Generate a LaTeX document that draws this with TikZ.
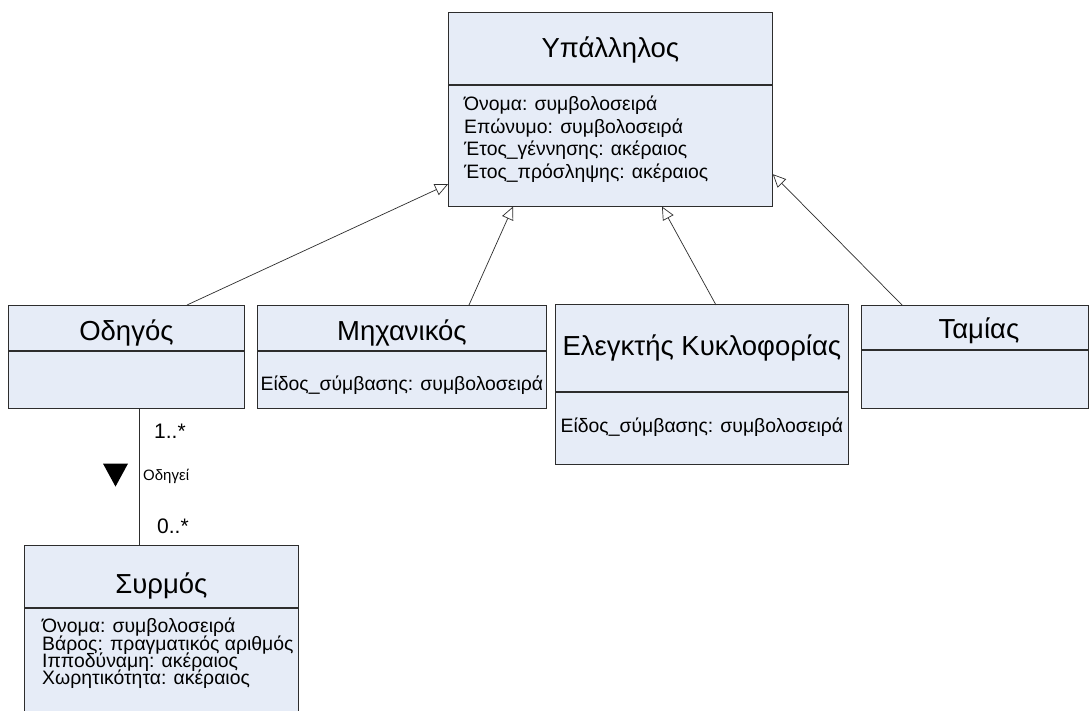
\documentclass[tikz,border=0pt]{standalone}
\usepackage{fontspec}
\setmainfont{Liberation Sans}
\usetikzlibrary{arrows.meta,calc}
\definecolor{clsfill}{RGB}{230,236,247}
\definecolor{edge}{RGB}{45,45,45}
\begin{document}
\begin{tikzpicture}[x=1pt,y=-1pt,
  cls/.style={draw=edge, fill=clsfill, line width=0.8pt, rectangle, inner sep=0pt, anchor=north west},
  ttl/.style={font=\fontsize{27.5}{32}\selectfont, anchor=base, inner sep=0pt},
  attr/.style={font=\fontsize{19.4}{22}\selectfont, anchor=base west, inner sep=0pt},
  mult/.style={font=\fontsize{21}{24}\selectfont, anchor=base west, inner sep=0pt},
  role/.style={font=\fontsize{15}{17}\selectfont, anchor=base west, inner sep=0pt},
  gen/.style={draw=edge, line width=0.7pt, -{Triangle[open, length=13pt, width=12pt]}},
  assoc/.style={draw=edge, line width=0.7pt}]
\clip (0,0) rectangle (1089,711);
\fill[white] (0,0) rectangle (1089,711);

% Employee (superclass)
\node[cls, minimum width=324pt, minimum height=72pt] (ypT) at (448,12) {};
\node[cls, minimum width=324pt, minimum height=121pt] (ypB) at (ypT.south west) {};
\node[ttl] (ypN) at ($(ypT.south)+(0,-27)$) {Υπάλληλος};
\node[attr] (ypA1) at ($(ypB.north west)+(16,26)$) {Όνομα: συμβολοσειρά};
\node[attr] (ypA2) at ($(ypA1.base west)+(0,22.5)$) {Επώνυμο: συμβολοσειρά};
\node[attr] (ypA3) at ($(ypA2.base west)+(0,22.5)$) {Έτος\_γέννησης: ακέραιος};
\node[attr] (ypA4) at ($(ypA3.base west)+(0,22.5)$) {Έτος\_πρόσληψης: ακέραιος};

% Driver
\node[cls, minimum width=236pt, minimum height=45pt] (odT) at (8,305) {};
\node[cls, minimum width=236pt, minimum height=57pt] (odB) at (odT.south west) {};
\node[ttl] (odN) at ($(odT.south)+(0,-10)$) {Οδηγός};

% Engineer
\node[cls, minimum width=289pt, minimum height=45pt] (mhT) at (257,305) {};
\node[cls, minimum width=289pt, minimum height=57pt] (mhB) at (mhT.south west) {};
\node[ttl] (mhN) at ($(mhT.south)+(0,-10)$) {Μηχανικός};
\node[attr, anchor=base] (mhA1) at ($(mhB.north)+(0,40)$) {Είδος\_σύμβασης: συμβολοσειρά};

% Traffic controller
\node[cls, minimum width=293pt, minimum height=87pt] (elT) at (555,304) {};
\node[cls, minimum width=293pt, minimum height=72pt] (elB) at (elT.south west) {};
\node[ttl] (elN) at ($(elT.south)+(0,-36)$) {Ελεγκτής Κυκλοφορίας};
\node[attr, anchor=base] (elA1) at ($(elB.north)+(0,41)$) {Είδος\_σύμβασης: συμβολοσειρά};

% Cashier
\node[cls, minimum width=227pt, minimum height=44pt] (tmT) at (861,305) {};
\node[cls, minimum width=227pt, minimum height=58pt] (tmB) at (tmT.south west) {};
\node[ttl] (tmN) at ($(tmT.south)+(4,-11)$) {Ταμίας};

% Train
\node[cls, minimum width=274pt, minimum height=62pt] (srT) at (24,545) {};
\node[cls, minimum width=274pt, minimum height=120pt] (srB) at (srT.south west) {};
\node[ttl] (srN) at ($(srT.south)+(0,-14)$) {Συρμός};
\node[attr] (srA1) at ($(srB.north west)+(18,25)$) {Όνομα: συμβολοσειρά};
\node[attr] (srA2) at ($(srA1.base west)+(0,17.3)$) {Βάρος: πραγματικός αριθμός};
\node[attr] (srA3) at ($(srA2.base west)+(0,17.3)$) {Ιπποδύναμη: ακέραιος};
\node[attr] (srA4) at ($(srA3.base west)+(0,17.3)$) {Χωρητικότητα: ακέραιος};

% Generalisations
\draw[gen] ($(odT.north west)+(179,0)$) -- ($(ypB.west)+(0,38.5)$);
\draw[gen] ($(mhT.north west)+(212,0)$) -- ($(ypB.south west)+(65,0)$);
\draw[gen] ($(elT.north west)+(161,1)$) -- ($(ypB.south west)+(214,0)$);
\draw[gen] ($(tmT.north west)+(41,0)$) -- ($(ypB.east)+(0,28.5)$);

% Association Driver -- Train
\draw[assoc] ($(odB.south west)+(131,0)$) coordinate (asTop) -- ($(srT.north west)+(115,0)$) coordinate (asBot);
\node[mult] (m1) at ($(asTop)+(15,30)$) {1..*};
\node[mult] (m2) at ($(asBot)+(18,-12)$) {0..*};
\node[role] (rl) at ($(asTop)+(4,72)$) {Οδηγεί};
\fill[black] ($(asTop)+(-36,55)$) -- ($(asTop)+(-11,55)$) -- ($(asTop)+(-23.5,78)$) -- cycle;
\end{tikzpicture}
\end{document}
